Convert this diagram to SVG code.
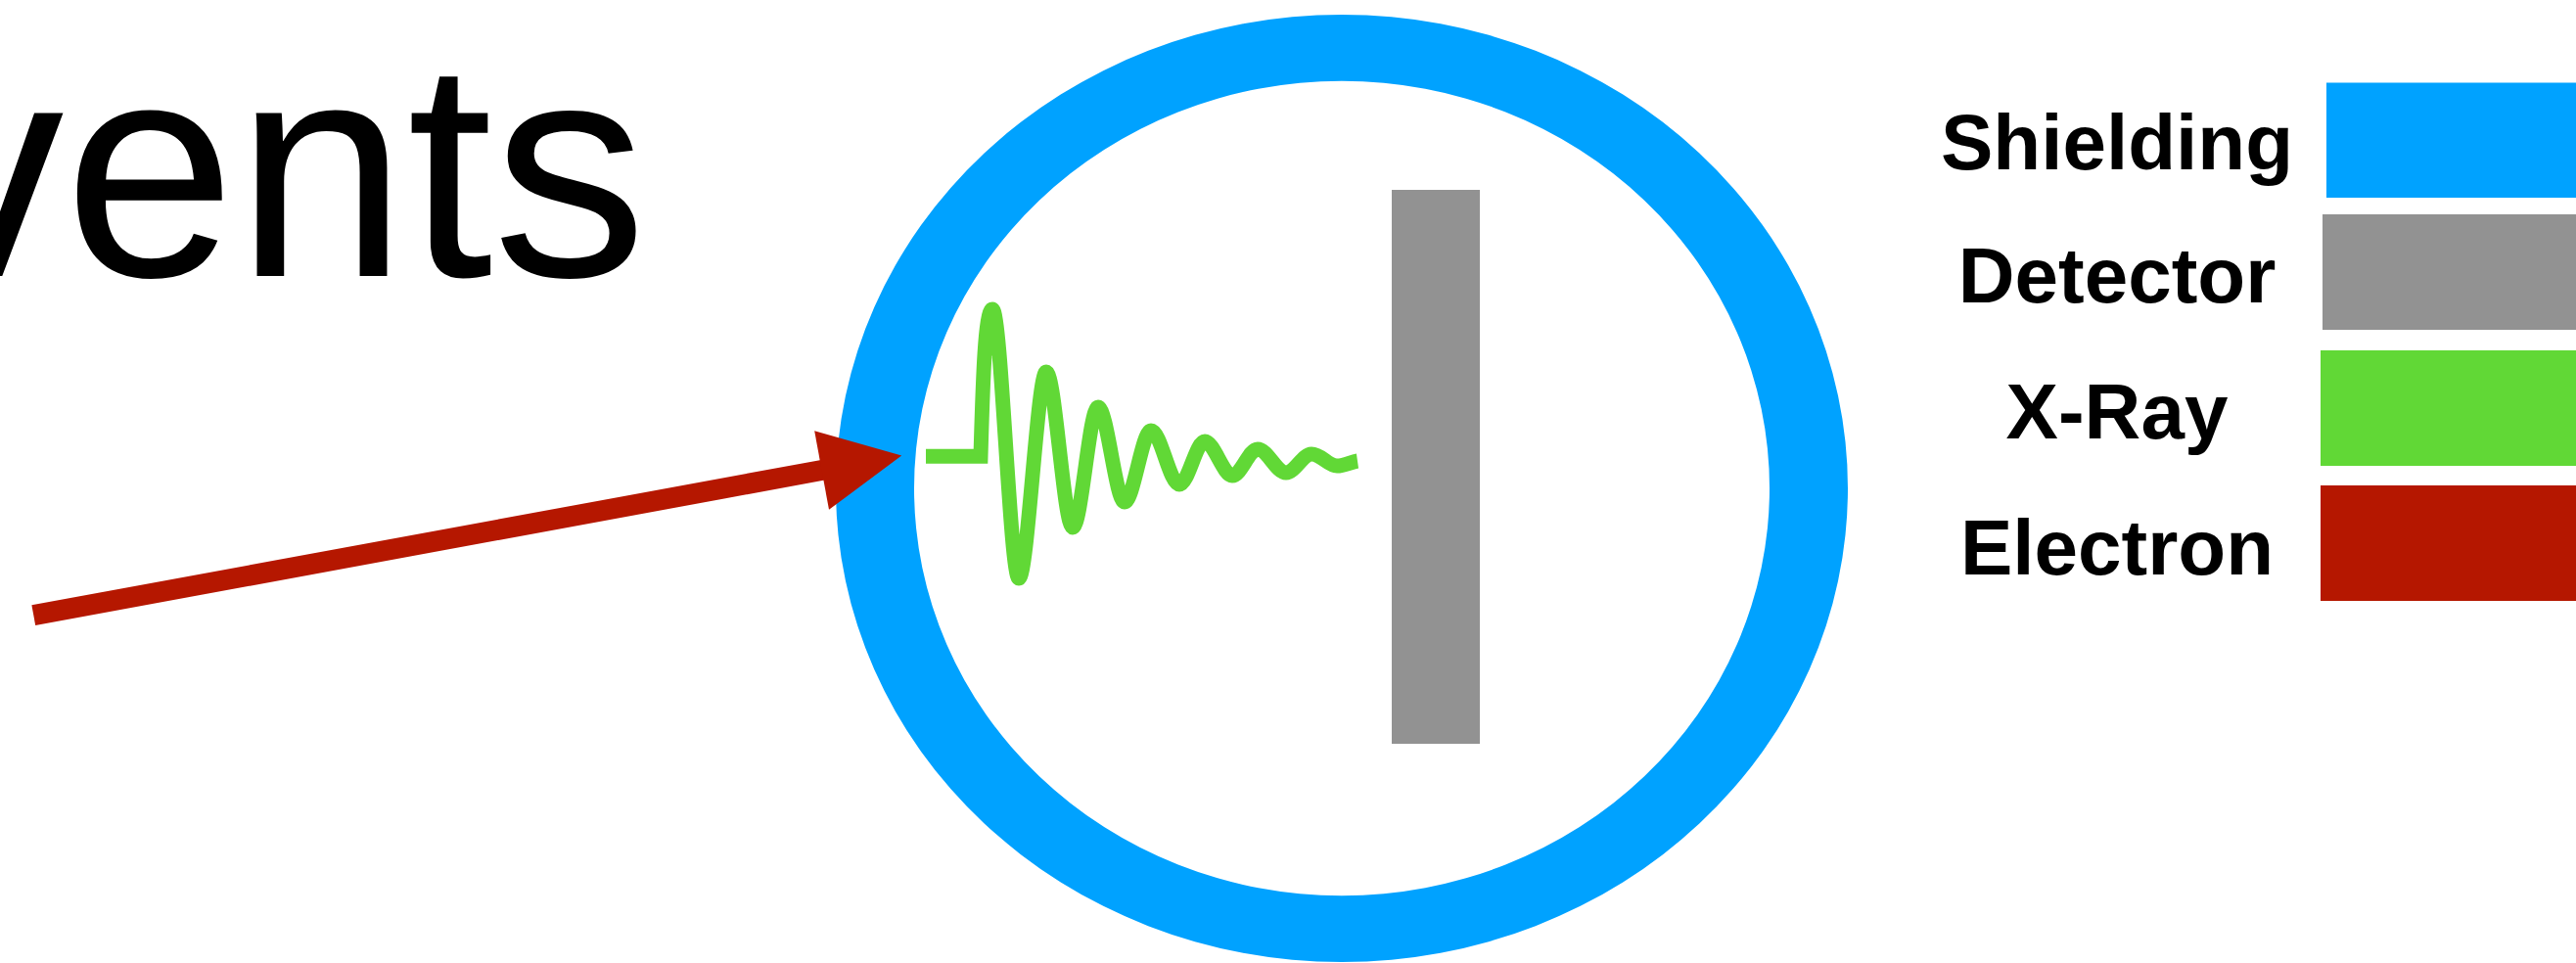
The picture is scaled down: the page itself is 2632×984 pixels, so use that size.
<svg xmlns="http://www.w3.org/2000/svg" width="2632" height="984" viewBox="0 0 2632 984">
  <style>
    .title { font-family: "Liberation Sans", Arial, sans-serif; font-size: 315px; fill: #000; }
    .legend { font-family: "Liberation Sans", Arial, sans-serif; font-size: 80px; font-weight: bold; fill: #000; text-anchor: middle; }
    .shield { fill: #00A2FF; }
    .detector { fill: #929292; }
    .xray { fill: #61D836; }
    .electron { fill: #B51700; }
  </style>
  <defs>
    <marker id="electronHead" markerUnits="userSpaceOnUse" markerWidth="100" markerHeight="100" refX="5.5" refY="0" viewBox="0 -50 100 100" orient="auto" overflow="visible">
      <path d="M0,-41 L83,0 L0,41 Z" fill="#B51700"/>
    </marker>
  </defs>
  <rect width="2632" height="984" fill="#fff"/>

  <text class="title" x="-92" y="282">vents</text>

  <g id="shielding">
    <path class="shield" fill-rule="evenodd" d="M854,499 A517,484 0 1,0 1888,499 A517,484 0 1,0 854,499 Z M934,499 A437,416 0 1,0 1808,499 A437,416 0 1,0 934,499 Z"/>
  </g>

  <g id="detector">
    <rect class="detector" x="1422" y="194" width="90" height="566"/>
  </g>

  <g id="xray">
    <path d="M946,466.3 L1002,466.3 C1004,400 1006,316 1014,316 C1023,316 1032,591 1041,591 C1050,591 1060,380 1069,380 C1078,380 1087,539 1096,539 C1105,539 1113,416 1122,416 C1131,416 1140,513 1149,513 C1158,513 1167,440 1176,440 C1186,440 1195,495 1205,495 C1214,495 1222,451 1231,451 C1240,451 1250,486 1259,486 C1268,486 1276,459 1285,459 C1295,459 1304,483 1314,483 C1323,483 1331,464 1340,464 C1350,464 1357,476 1366,476 C1374,476 1380,472 1387,471" fill="none" stroke="#61D836" stroke-width="15" stroke-linejoin="miter" stroke-linecap="butt"/>
  </g>

  <g id="connectors">
    <line x1="34.3" y1="628.7" x2="845" y2="479.5" stroke="#B51700" stroke-width="21" marker-end="url(#electronHead)"/>
  </g>

  <g id="legend">
    <g id="legend-shielding">
      <text class="legend" x="2163" y="173">Shielding</text>
      <rect class="shield" x="2377" y="84.5" width="300" height="117.5"/>
    </g>
    <g id="legend-detector">
      <text class="legend" x="2163" y="309">Detector</text>
      <rect class="detector" x="2373" y="219" width="300" height="118"/>
    </g>
    <g id="legend-xray">
      <text class="legend" x="2163" y="448">X-Ray</text>
      <rect class="xray" x="2371" y="358" width="300" height="118"/>
    </g>
    <g id="legend-electron">
      <text class="legend" x="2163" y="587">Electron</text>
      <rect class="electron" x="2371" y="496" width="300" height="118"/>
    </g>
  </g>
</svg>
